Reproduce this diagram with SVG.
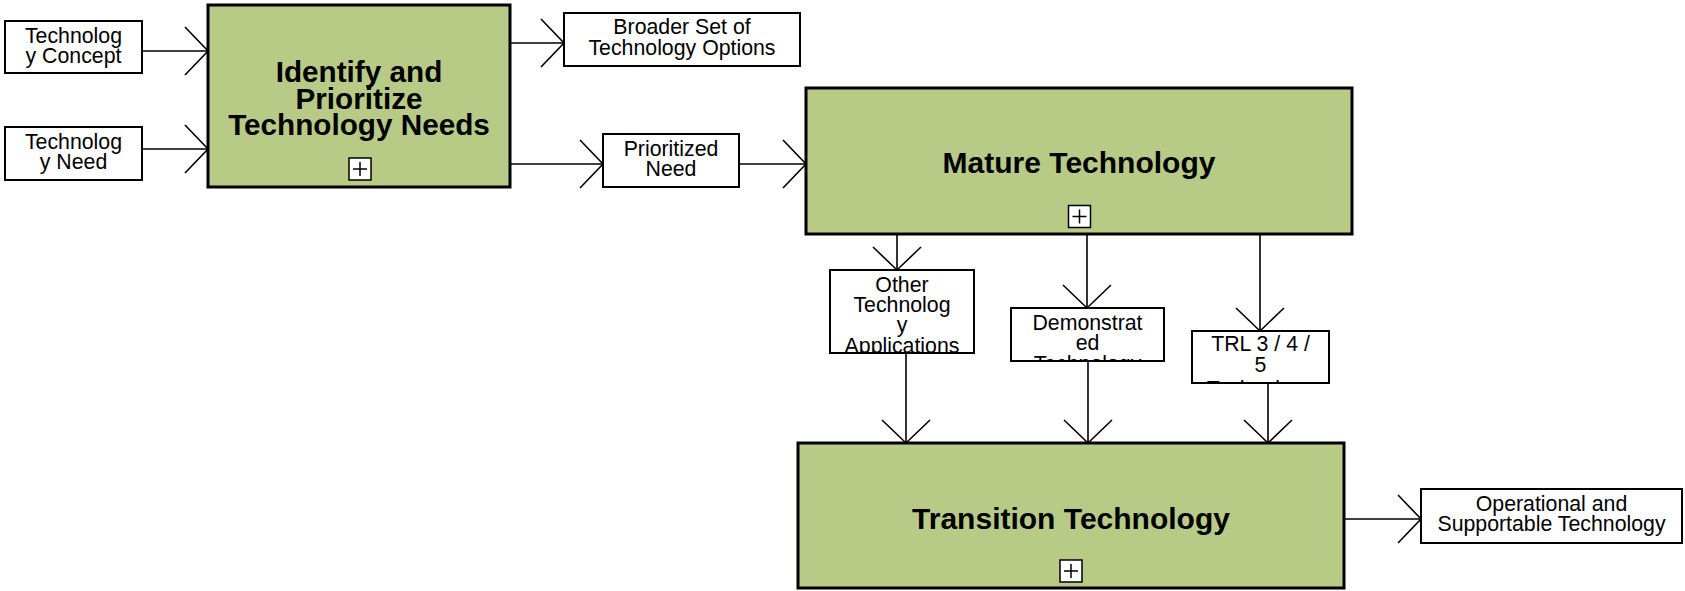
<svg xmlns="http://www.w3.org/2000/svg" width="1685" height="591" viewBox="0 0 1685 591">
<style>
.big{fill:#b7cb87;stroke:#000;stroke-width:3}
.sm{fill:#fff;stroke:#000;stroke-width:2}
.bt{font-family:"Liberation Sans",Arial,sans-serif;font-weight:bold;fill:#000;text-anchor:middle}
.st{font-family:"Liberation Sans",Arial,sans-serif;font-size:21.3px;fill:#000;text-anchor:middle}
.plus rect{fill:#fff;stroke:#000;stroke-width:1.5}
.plus path{stroke:#000;stroke-width:1.5;fill:none}
.conn line{stroke:#000;stroke-width:1.6;fill:none}
</style>
<defs>
<marker id="arr" markerUnits="userSpaceOnUse" markerWidth="30" markerHeight="50" refX="0" refY="0" orient="auto" overflow="visible">
<path d="M-23,-24 L0,0 L-23,24" fill="none" stroke="#000" stroke-width="1.6"/>
</marker>
<clipPath id="cOther"><rect x="830" y="270" width="144" height="83"/></clipPath>
<clipPath id="cDemo"><rect x="1011" y="308" width="153" height="53"/></clipPath>
<clipPath id="cTrl"><rect x="1192" y="331" width="137" height="52"/></clipPath>
</defs>
<rect width="1685" height="591" fill="#fff"/>
<g id="connectors" class="conn">
<line x1="142" y1="51" x2="208" y2="51" marker-end="url(#arr)"/>
<line x1="142" y1="149" x2="208" y2="149" marker-end="url(#arr)"/>
<line x1="510" y1="43" x2="564" y2="43" marker-end="url(#arr)"/>
<line x1="510" y1="164" x2="603" y2="164" marker-end="url(#arr)"/>
<line x1="739" y1="164" x2="806" y2="164" marker-end="url(#arr)"/>
<line x1="897" y1="234" x2="897" y2="270" marker-end="url(#arr)"/>
<line x1="1087" y1="234" x2="1087" y2="308" marker-end="url(#arr)"/>
<line x1="1260" y1="234" x2="1260" y2="331" marker-end="url(#arr)"/>
<line x1="906" y1="353" x2="906" y2="443" marker-end="url(#arr)"/>
<line x1="1088" y1="361" x2="1088" y2="443" marker-end="url(#arr)"/>
<line x1="1268" y1="383" x2="1268" y2="443" marker-end="url(#arr)"/>
<line x1="1344" y1="519" x2="1421" y2="519" marker-end="url(#arr)"/>
</g>
<g id="techConcept">
<rect class="sm" x="5" y="21" width="137" height="52"/>
<text class="st" x="73.5" y="43">Technolog</text>
<text class="st" x="73.5" y="63">y Concept</text>
</g>
<g id="techNeed">
<rect class="sm" x="5" y="127" width="137" height="53"/>
<text class="st" x="73.5" y="149">Technolog</text>
<text class="st" x="73.5" y="169">y Need</text>
</g>
<g id="identify">
<rect class="big" x="208" y="5" width="302" height="182"/>
<text class="bt" font-size="29.7" x="359" y="82">Identify and</text>
<text class="bt" font-size="29.7" x="359" y="108.5">Prioritize</text>
<text class="bt" font-size="29.7" x="359" y="135">Technology Needs</text>
<g class="plus"><rect x="349" y="158" width="22" height="22"/><path d="M353,169 H367 M360,162 V176"/></g>
</g>
<g id="broader">
<rect class="sm" x="564" y="13" width="236" height="53"/>
<text class="st" x="682" y="34">Broader Set of</text>
<text class="st" x="682" y="55">Technology Options</text>
</g>
<g id="prioritized">
<rect class="sm" x="603" y="134" width="136" height="53"/>
<text class="st" x="671" y="155.5">Prioritized</text>
<text class="st" x="671" y="176">Need</text>
</g>
<g id="mature">
<rect class="big" x="806" y="88" width="546" height="146"/>
<text class="bt" font-size="30" x="1079" y="173">Mature Technology</text>
<g class="plus"><rect x="1068.5" y="205.5" width="22" height="22"/><path d="M1072.5,216.5 H1086.5 M1079.5,209.5 V223.5"/></g>
</g>
<g id="otherApps">
<rect class="sm" x="830" y="270" width="144" height="83"/>
<g clip-path="url(#cOther)">
<text class="st" x="902" y="292">Other</text>
<text class="st" x="902" y="312">Technolog</text>
<text class="st" x="902" y="332">y</text>
<text class="st" x="902" y="353">Applications</text>
</g>
</g>
<g id="demonstrated">
<rect class="sm" x="1011" y="308" width="153" height="53"/>
<g clip-path="url(#cDemo)">
<text class="st" x="1087.5" y="330">Demonstrat</text>
<text class="st" x="1087.5" y="350">ed</text>
<text class="st" x="1087.5" y="371">Technology</text>
</g>
</g>
<g id="trl">
<rect class="sm" x="1192" y="331" width="137" height="52"/>
<g clip-path="url(#cTrl)">
<text class="st" x="1260.5" y="351">TRL 3 / 4 /</text>
<text class="st" x="1260.5" y="372">5</text>
<text class="st" x="1260.5" y="396">Technology</text>
</g>
</g>
<g id="transition">
<rect class="big" x="798" y="443" width="546" height="145"/>
<text class="bt" font-size="30" x="1071" y="529">Transition Technology</text>
<g class="plus"><rect x="1060" y="560" width="22" height="22"/><path d="M1064,571 H1078 M1071,564 V578"/></g>
</g>
<g id="operational">
<rect class="sm" x="1421" y="489" width="261" height="54"/>
<text class="st" x="1551.5" y="511">Operational and</text>
<text class="st" x="1551.5" y="531">Supportable Technology</text>
</g>
</svg>
